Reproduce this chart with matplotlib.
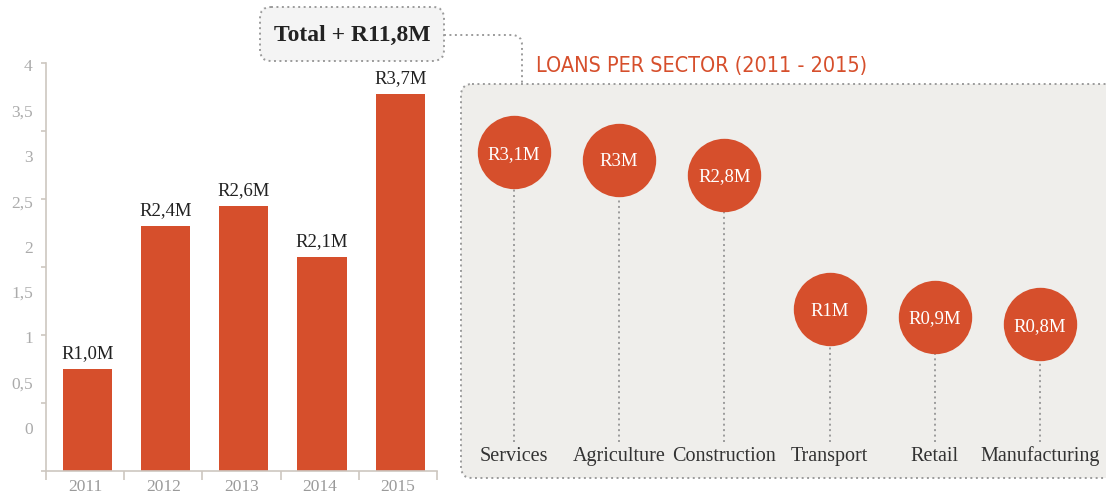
import numpy as np
import matplotlib
matplotlib.use("Agg")
import matplotlib.pyplot as plt
from matplotlib.patches import FancyBboxPatch, PathPatch
from matplotlib.path import Path
from matplotlib import font_manager

# loans per year (millions of rand)
years = ["2011", "2012", "2013", "2014", "2015"]
loans_per_year = [1.0, 2.4, 2.6, 2.1, 3.7]
y_labels = ["0", "0,5", "1", "1,5", "2", "2,5", "3", "3,5", "4"]

# loans per sector over the whole period
sectors = ["Services", "Agriculture", "Construction", "Transport", "Retail", "Manufacturing"]
loans_per_sector = [3.1, 3.0, 2.8, 1.0, 0.9, 0.8]

RED = "#d64f2c"
DOT_GREY = "#9b9b9b"
SPINE = "#cdc7c0"
SERIF = "Liberation Serif"
dotted = (0, (1, 1.8))


def narrow_font():
    # any condensed sans on the system, else plain DejaVu Sans
    for f in font_manager.fontManager.ttflist:
        narrow = f.stretch in ("condensed", "semi-condensed", "extra-condensed") or \
            "Condensed" in f.name or "Narrow" in f.name
        if narrow and f.style == "normal" and f.weight in (400, 500, "normal", "medium"):
            return font_manager.FontProperties(fname=f.fname)
    return font_manager.FontProperties(family="DejaVu Sans")


W, H = 1106, 497
fig = plt.figure(figsize=(W / 100, H / 100), dpi=100)


def px_box(x0, y0, x1, y1):
    return [x0 / W, 1 - y1 / H, (x1 - x0) / W, (y1 - y0) / H]


def rands(v, fixed=True):
    s = f"{v:.1f}" if fixed else f"{v:g}"
    return "R" + s.replace(".", ",") + "M"


# background decorations drawn in pixel space
ov = fig.add_axes([0, 0, 1, 1], zorder=0)
ov.set_xlim(0, W)
ov.set_ylim(H, 0)
ov.axis("off")

panel = FancyBboxPatch((461, 84), 700, 394, boxstyle="round,pad=0,rounding_size=11",
                       facecolor="#efeeeb", edgecolor=DOT_GREY, lw=1.4, linestyle=dotted)
ov.add_patch(panel)

total_box = FancyBboxPatch((260, 7), 184, 54, boxstyle="round,pad=0,rounding_size=11",
                           facecolor="#f4f4f4", edgecolor=DOT_GREY, lw=1.4, linestyle=dotted)
ov.add_patch(total_box)
ov.text(352, 35, "Total + " + rands(sum(loans_per_year)), ha="center", va="center",
        fontsize=17, fontweight="bold", family=SERIF, color="#222222")

link = Path([(444, 35), (512, 35), (522, 35), (522, 45), (522, 84)],
            [Path.MOVETO, Path.LINETO, Path.CURVE3, Path.CURVE3, Path.LINETO])
ov.add_patch(PathPatch(link, fill=False, edgecolor=DOT_GREY, lw=1.4, linestyle=dotted))

title = ov.text(536, 66, "LOANS PER SECTOR (2011 - 2015)", ha="left", va="center",
                fontproperties=narrow_font(), fontsize=20, color=RED)
# shrink the heading until it spans the space above the panel
renderer = fig.canvas.get_renderer()
tw = title.get_window_extent(renderer).width
title.set_fontsize(min(20, 20 * 332 / tw))

# bar chart
ax = fig.add_axes(px_box(46, 63, 437, 471), zorder=2)
x = np.arange(len(years))
bars = ax.bar(x + 0.03, loans_per_year, width=0.63, color=RED)
ax.bar_label(bars, labels=[rands(v) for v in loans_per_year], padding=5,
             fontsize=13.5, family=SERIF, color="#222222")
ax.set_xlim(-0.5, len(years) - 0.5)
ax.set_ylim(0, 4)
ax.set_facecolor("none")
for side in ["top", "right"]:
    ax.spines[side].set_visible(False)
for side in ["left", "bottom"]:
    ax.spines[side].set_color(SPINE)
    ax.spines[side].set_linewidth(1.2)

ax.set_xticks(x, years)
ax.set_xticks(np.arange(len(years) + 1) - 0.5, minor=True)
ax.tick_params(axis="x", which="major", length=0, pad=6, labelsize=12.5, labelcolor="#9a9a9a")
ax.tick_params(axis="x", which="minor", length=6.5, width=1.2, color=SPINE)
for t in ax.get_xticklabels():
    t.set_family(SERIF)

ax.set_yticks(np.linspace(0.42, 3.98, len(y_labels)), y_labels)
ax.set_yticks(np.linspace(0, 4, 7), minor=True)
ax.tick_params(axis="y", which="major", length=0, pad=9.5, labelsize=12.5, labelcolor="#ababab")
ax.tick_params(axis="y", which="minor", length=3.6, width=1.2, color=SPINE)
for t in ax.get_yticklabels():
    t.set_family(SERIF)

# sector bubbles, height follows the loan value
bx = fig.add_axes(px_box(461, 84, 1106, 478), zorder=2)
x0, step = 514, 105.2
v0, scale = 384, 74.8
bx.set_xlim((461 - x0) / step, (W - x0) / step)
bx.set_ylim((v0 - 478) / scale, (v0 - 84) / scale)
bx.axis("off")
stem_end = (v0 - 442) / scale
label_base = (v0 - 461) / scale

sx = np.arange(len(sectors))
bx.vlines(sx, stem_end, loans_per_sector, colors=DOT_GREY, lw=1.4, linestyles=[dotted], zorder=1)
bx.scatter(sx, loans_per_sector, s=2793, color=RED, linewidths=0, zorder=2)
for i, (name, v) in enumerate(zip(sectors, loans_per_sector)):
    bx.text(i, v, rands(v, fixed=False), ha="center", va="center_baseline", fontsize=13.5,
            family=SERIF, color="white", zorder=3)
    bx.text(i, label_base, name, ha="center", va="baseline", fontsize=14.5,
            family=SERIF, color="#333333")

fig.savefig("out.png", dpi=100, facecolor="white")
